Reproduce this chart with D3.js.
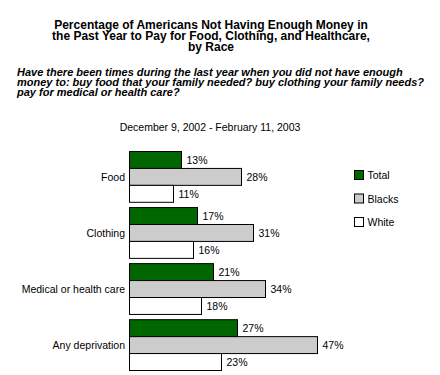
<!DOCTYPE html>
<html>
<head>
<meta charset="utf-8">
<script src="https://cdn.jsdelivr.net/npm/d3@7"></script>
<style>
  body { margin: 0; background: #fff; }
  text { font-family: Arial, "Liberation Sans", sans-serif; fill: #000; }
  .title { font-size: 12px; font-weight: bold; }
  .question { font-size: 11px; font-weight: bold; font-style: italic; }
  .small { font-size: 10.5px; }
</style>
</head>
<body>
<div id="chart"></div>
<script>
// values
const categories = ["Food", "Clothing", "Medical or health care", "Any deprivation"];
const seriesNames = ["Total", "Blacks", "White"];
const total = [13, 17, 21, 27];
const blacks = [28, 31, 34, 47];
const white = [11, 16, 18, 23];
const titleLines = [
  "Percentage of Americans Not Having Enough Money in",
  "the Past Year to Pay for Food, Clothing, and Healthcare,",
  "by Race"
];
const questionLines = [
  "Have there been times during the last year when you did not have enough",
  "money to: buy food that your family needed? buy clothing your family needs?",
  "pay for medical or health care?"
];
const dateLine = "December 9, 2002 - February 11, 2003";

const width = 440,
  height = 375;

const svg = d3
  .select("#chart")
  .append("svg")
  .attr("width", width)
  .attr("height", height);

// titles
svg
  .selectAll(".title")
  .data(titleLines)
  .join("text")
  .attr("class", "title")
  .attr("text-anchor", "middle")
  .attr("x", 211)
  .attr("y", (d, i) => 29 + i * 11)
  .text((d) => d);

svg
  .selectAll(".question")
  .data(questionLines)
  .join("text")
  .attr("class", "question")
  .attr("x", 17)
  .attr("y", (d, i) => 76 + i * 10)
  .text((d) => d);

svg
  .append("text")
  .attr("class", "small")
  .attr("text-anchor", "middle")
  .attr("x", 210)
  .attr("y", 131)
  .text(dateLine);

const rows = categories.map((c, i) => ({
  category: c,
  values: [total[i], blacks[i], white[i]],
}));

const x = d3.scaleLinear().domain([0, 50]).range([129.5, 329.5]);

const y = d3
  .scaleBand()
  .domain(categories)
  .range([151.5, 370.5])
  .paddingInner(0.094)
  .paddingOuter(0);

const ySub = d3.scaleBand().domain(seriesNames).range([0, y.bandwidth()]);

const color = d3.scaleOrdinal(seriesNames, ["#006600", "#cccccc", "#ffffff"]);

const groups = svg
  .selectAll(".group")
  .data(rows)
  .join("g")
  .attr("class", "group")
  .attr("transform", (d) => `translate(0,${y(d.category)})`);

groups
  .selectAll("rect")
  .data((d) => d.values.map((v, i) => ({ key: seriesNames[i], value: v })))
  .join("rect")
  .attr("x", x(0))
  .attr("y", (d) => ySub(d.key))
  .attr("width", (d) => x(d.value) - x(0))
  .attr("height", ySub.bandwidth())
  .attr("fill", (d) => color(d.key))
  .attr("stroke", "#000")
  .attr("stroke-width", 1);

groups
  .selectAll(".val")
  .data((d) => d.values.map((v, i) => ({ key: seriesNames[i], value: v })))
  .join("text")
  .attr("class", "val small")
  .attr("x", (d) => x(d.value) + 5)
  .attr("y", (d) => ySub(d.key) + ySub.bandwidth() / 2)
  .attr("dy", "0.36em")
  .text((d) => d.value + "%");

// category labels
svg
  .append("g")
  .selectAll("text")
  .data(categories)
  .join("text")
  .attr("class", "small")
  .attr("text-anchor", "end")
  .attr("x", 125)
  .attr("y", (d) => y(d) + y.bandwidth() / 2)
  .attr("dy", "0.36em")
  .text((d) => d);

// legend
const legend = svg
  .append("g")
  .selectAll("g")
  .data(seriesNames)
  .join("g")
  .attr("transform", (d, i) => `translate(354.5,${170.5 + i * 23.5})`);

legend
  .append("rect")
  .attr("width", 9)
  .attr("height", 9)
  .attr("fill", (d) => color(d))
  .attr("stroke", "#000");

legend
  .append("text")
  .attr("class", "small")
  .attr("x", 13)
  .attr("y", 8.5)
  .text((d) => d);
</script>
</body>
</html>
